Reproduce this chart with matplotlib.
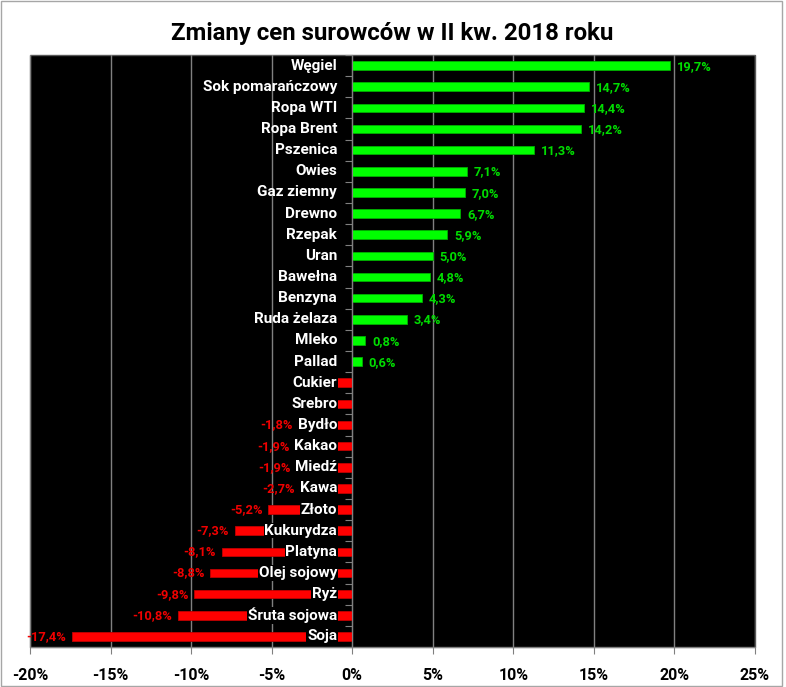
import matplotlib
matplotlib.use("Agg")
import matplotlib.pyplot as plt
import matplotlib.transforms as mtransforms
from matplotlib.patches import Rectangle
from matplotlib.ticker import FuncFormatter, FixedLocator
import numpy as np

categories = ["Węgiel", "Sok pomarańczowy", "Ropa WTI", "Ropa Brent", "Pszenica", "Owies",
              "Gaz ziemny", "Drewno", "Rzepak", "Uran", "Bawełna", "Benzyna", "Ruda żelaza",
              "Mleko", "Pallad", "Cukier", "Srebro", "Bydło", "Kakao", "Miedź", "Kawa",
              "Złoto", "Kukurydza", "Platyna", "Olej sojowy", "Ryż", "Śruta sojowa", "Soja"]
values = [19.7, 14.7, 14.4, 14.2, 11.3, 7.1, 7.0, 6.7, 5.9, 5.0, 4.8, 4.3, 3.4, 0.8, 0.6,
          -1.0, -1.1, -1.8, -1.9, -1.9, -2.7, -5.2, -7.3, -8.1, -8.8, -9.8, -10.8, -17.4]
hidden_value_labels = ["Cukier", "Srebro"]
x_ticks = [-20, -15, -10, -5, 0, 5, 10, 15, 20, 25]

FONT = "Roboto"
plt.rcParams["font.family"] = [FONT, "DejaVu Sans"]
plt.rcParams["font.weight"] = "bold"

W, H = 786, 687
fig = plt.figure(figsize=(W / 100, H / 100), dpi=100)
fig.patch.set_facecolor("white")
fig.patches.append(Rectangle((1 / W, 1 / H), 781 / W, 685 / H, transform=fig.transFigure,
                             fill=False, edgecolor="#a6a6a6", linewidth=1.0))

ax = fig.add_axes([30 / W, (H - 647) / H, 725 / W, 592 / H])
ax.set_facecolor("black")
ax.patch.set_edgecolor("#595959")
ax.patch.set_linewidth(1.0)

n = len(categories)
ypos = np.arange(n)
colors = ["#00ff00" if v >= 0 else "#ff0000" for v in values]
edges = ["#00b000" if v >= 0 else "#c00000" for v in values]
ax.barh(ypos, values, height=0.4, color=colors, edgecolor=edges, linewidth=0.6, zorder=2)

ax.set_xlim(-20, 25)
ax.set_ylim(n - 0.5, -0.5)
ax.xaxis.set_major_locator(FixedLocator(x_ticks))
ax.xaxis.set_major_formatter(FuncFormatter(lambda v, p: f"{v:.0f}%"))
ax.grid(axis="x", color="#808080", linewidth=1.0, zorder=0)
ax.set_axisbelow(True)

for s in ["top", "right"]:
    ax.spines[s].set_visible(False)
ax.spines["bottom"].set_color("#808080")
ax.spines["left"].set_position(("data", 0))
ax.spines["left"].set_color("#808080")
ax.spines["left"].set_zorder(3)

ax.set_yticks(np.arange(-0.5, n, 1.0))
ax.set_yticklabels([])
ax.tick_params(axis="y", length=5, color="#808080", direction="out")
ax.tick_params(axis="x", length=5, color="#808080", direction="out", pad=10,
               labelsize=11.5, labelcolor="black")

cat_tr = mtransforms.offset_copy(ax.transData, fig=fig, x=-15, y=0, units="dots")
cat_texts = []
for i, (name, v) in enumerate(zip(categories, values)):
    kw = {}
    if v < 0:
        kw["bbox"] = dict(boxstyle="square,pad=0.05", facecolor="black", edgecolor="none")
    t = ax.text(0, i, name, transform=cat_tr, ha="right", va="center", color="white",
                fontweight="bold", fontsize=11, zorder=5, **kw)
    cat_texts.append(t)

ax.set_title("Zmiany cen surowców w II kw. 2018 roku", fontweight="bold",
             fontsize=17.3, color="black", pad=11)

fig.canvas.draw()
renderer = fig.canvas.get_renderer()
inv = ax.transData.inverted()

for i, (name, v) in enumerate(zip(categories, values)):
    label = f"{v:.1f}%".replace(".", ",")
    if v >= 0:
        ax.annotate(label, xy=(v, i), xytext=(5, -0.5), textcoords="offset points",
                    ha="left", va="center", color="#00dd00",
                    fontweight="bold", fontsize=9.3, zorder=4)
    elif name not in hidden_value_labels:
        bar_px = ax.transData.transform((v, i))[0] - 6
        bb = cat_texts[i].get_window_extent(renderer)
        bar_px = min(bar_px, bb.x0 - 5)
        xr = inv.transform((bar_px, 0))[0]
        ax.text(xr, i, label, ha="right", va="center", color="#f00000",
                fontweight="bold", fontsize=9.3, zorder=4)

fig.savefig("out.png", dpi=100, facecolor="white")
